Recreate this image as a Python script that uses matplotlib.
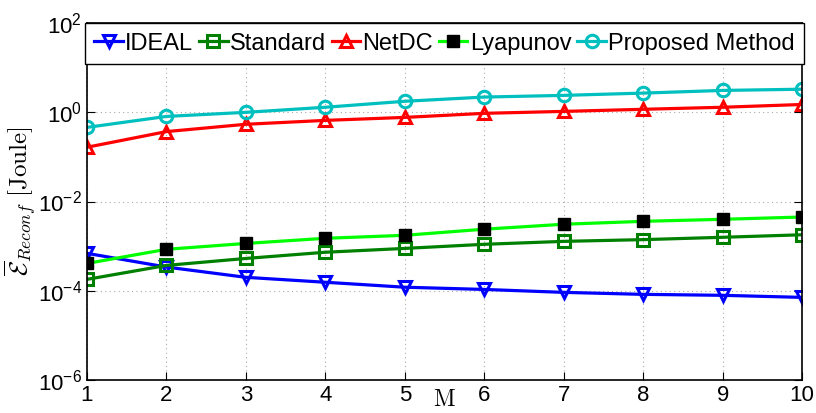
import numpy as np
import matplotlib
matplotlib.use('Agg')
import matplotlib.pyplot as plt
from matplotlib.ticker import FixedLocator, NullLocator

plt.rcParams['font.family'] = ['Liberation Sans', 'DejaVu Sans']
plt.rcParams['mathtext.fontset'] = 'cm'

# Data
M = [1, 2, 3, 4, 5, 6, 7, 8, 9, 10]
ideal = [6.9e-4, 3.4e-4, 2.0e-4, 1.55e-4, 1.2e-4, 1.07e-4, 9.2e-5, 8.3e-5, 7.9e-5, 7.1e-5]
standard = [1.8e-4, 3.7e-4, 5.3e-4, 7.3e-4, 8.9e-4, 1.1e-3, 1.28e-3, 1.4e-3, 1.58e-3, 1.8e-3]
netdc = [0.165, 0.37, 0.54, 0.66, 0.77, 0.95, 1.05, 1.17, 1.3, 1.5]
lyapunov = [4.1e-4, 8.5e-4, 1.15e-3, 1.5e-3, 1.75e-3, 2.4e-3, 3.1e-3, 3.6e-3, 4.0e-3, 4.5e-3]
proposed = [0.46, 0.81, 1.0, 1.3, 1.77, 2.2, 2.4, 2.7, 3.1, 3.3]

fig = plt.figure(figsize=(8.16, 4.13), dpi=100)
ax = fig.add_axes([0.1066, 0.080, 0.8764, 0.864])

lw = 2.3
ms = 9
ax.plot(M, ideal, color='blue', marker='v', mfc='none', mew=2.2, ms=ms, lw=lw, label='IDEAL')
ax.plot(M, standard, color=(0, 0.5, 0), marker='s', mfc='none', mew=2.2, ms=ms - 1, lw=lw, label='Standard')
ax.plot(M, netdc, color='red', marker='^', mfc='none', mew=2.2, ms=ms, lw=lw, label='NetDC')
ax.plot(M, lyapunov, color='#00ff00', marker='s', mfc='black', mec='black', ms=ms, lw=lw, label='Lyapunov')
ax.plot(M, proposed, color=(0, 0.75, 0.75), marker='o', mfc='none', mew=2.2, ms=ms, lw=lw, label='Proposed Method')

ax.set_yscale('log')
ax.set_xlim(1, 10)
ax.set_ylim(1e-6, 1e2)
ax.set_xticks(M)
ax.yaxis.set_major_locator(FixedLocator([1e-6, 1e-4, 1e-2, 1e0, 1e2]))
ax.yaxis.set_minor_locator(NullLocator())
ax.tick_params(direction='in', labelsize=16, length=6, top=True, right=True)
ax.grid(True, linestyle=(0, (1, 3)), color='#aaaaaa', linewidth=0.8)
for s in ax.spines.values():
    s.set_linewidth(1.2)

ax.set_xlabel(r'$\mathrm{M}$', fontsize=17, labelpad=-12)
ax.set_ylabel(r'$\overline{\mathcal{E}}_{Reconf}\ \mathrm{[Joule]}$', fontsize=18, labelpad=0)

leg = ax.legend(loc='upper center', ncol=5, fontsize=17, frameon=True, fancybox=False,
                edgecolor='black', handlelength=1.2, handletextpad=0.1, columnspacing=0.25,
                borderaxespad=0.0, borderpad=0.4, framealpha=1)
leg.get_frame().set_linewidth(1.0)

fig.savefig('out.png', dpi=100)
